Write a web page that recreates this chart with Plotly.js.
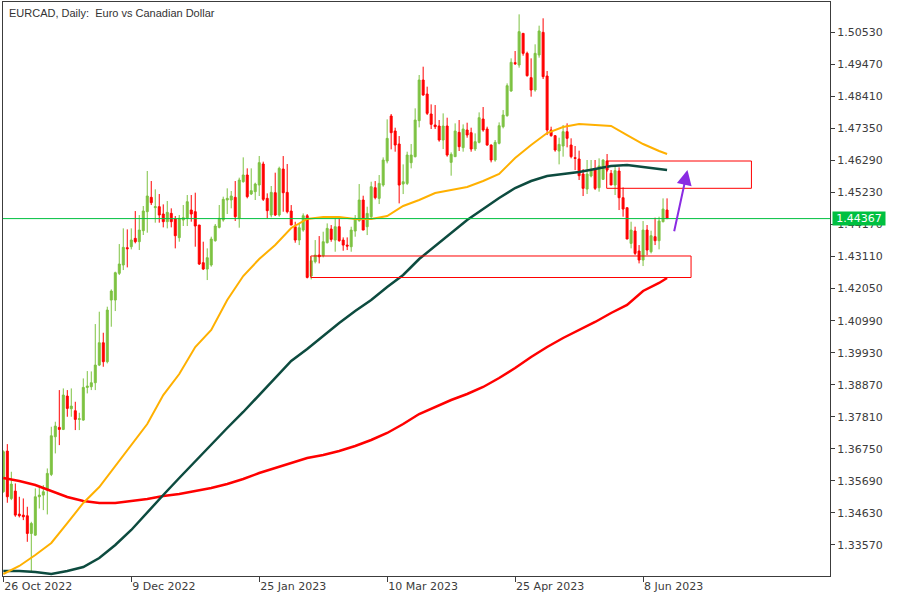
<!DOCTYPE html>
<html>
<head>
<meta charset="utf-8">
<script src="https://cdn.plot.ly/plotly-3.0.1.min.js"></script>
<style>html,body{margin:0;padding:0;background:#fff;}#chart{width:900px;height:600px;}</style>
</head>
<body>
<div id="chart"></div>
<script>
// Daily candles, 26 Oct 2022 .. 16 Jun 2023 (bar index 0..166)
const openP = [1.35333,1.36676,1.35109,1.35352,1.34591,1.34558,1.34536,1.33951,1.33896,1.35165,
1.35220,1.35385,1.35904,1.37150,1.37459,1.37393,1.38496,1.38077,1.38010,1.37724,
1.37702,1.38782,1.38804,1.38937,1.39521,1.40260,1.39632,1.41672,1.41672,1.42555,
1.42831,1.43404,1.43437,1.43713,1.43603,1.43967,1.44596,1.45070,1.44728,1.44761,
1.44518,1.44265,1.44540,1.44353,1.43735,1.44320,1.44375,1.44651,1.44596,1.44154,
1.42908,1.42698,1.42831,1.43636,1.44077,1.44320,1.44982,1.44982,1.45070,1.44375,
1.45588,1.45809,1.45180,1.45257,1.45478,1.46173,1.45037,1.44485,1.45224,1.44485,
1.46006,1.45234,1.44616,1.44098,1.43657,1.43988,1.44462,1.42466,1.42940,1.43161,
1.43139,1.43569,1.44021,1.43657,1.44098,1.43657,1.43491,1.43436,1.43955,1.44297,
1.44981,1.44098,1.44429,1.45389,1.45036,1.45477,1.46271,1.47760,1.47264,1.46834,
1.45510,1.45532,1.46216,1.46415,1.47606,1.48951,1.48488,1.47826,1.47462,1.47429,
1.46966,1.47429,1.46227,1.46415,1.47220,1.46712,1.47297,1.47209,1.46668,1.46889,
1.47661,1.47330,1.46800,1.46304,1.46856,1.47407,1.47771,1.48587,1.49525,1.49448,
1.50495,1.49834,1.49029,1.48620,1.49779,1.50529,1.49084,1.47297,1.47110,1.46602,
1.46768,1.47242,1.46801,1.46382,1.46338,1.45841,1.45345,1.45775,1.45974,1.45389,
1.45665,1.46272,1.45864,1.45478,1.45941,1.45058,1.44727,1.43547,1.43955,1.43294,
1.42996,1.43988,1.43271,1.43768,1.43635,1.44264,1.44650];
const highP = [1.36700,1.36907,1.35992,1.35606,1.35165,1.35109,1.34834,1.34337,1.35441,1.35496,
1.35551,1.36102,1.37481,1.37647,1.38694,1.38749,1.38694,1.38749,1.38308,1.37944,
1.39080,1.39323,1.39312,1.40878,1.41286,1.40591,1.41452,1.42025,1.42610,1.43525,
1.44044,1.44011,1.44044,1.44617,1.44485,1.44783,1.45941,1.45610,1.45335,1.45180,
1.44838,1.44949,1.44706,1.44452,1.44485,1.44816,1.45147,1.45147,1.45224,1.44154,
1.43603,1.43382,1.43768,1.44188,1.44816,1.45092,1.45368,1.45279,1.45610,1.45721,
1.46393,1.46029,1.46029,1.45555,1.46438,1.46250,1.45202,1.45445,1.45886,1.46085,
1.46436,1.46172,1.44815,1.44263,1.44208,1.44539,1.44517,1.43105,1.43657,1.43789,
1.43933,1.44208,1.44153,1.44374,1.44374,1.43745,1.43745,1.44098,1.44484,1.45510,
1.45124,1.44760,1.45587,1.45609,1.45808,1.46392,1.47650,1.47826,1.47374,1.47098,
1.46161,1.46580,1.46834,1.48014,1.49117,1.49392,1.48731,1.48146,1.48124,1.47628,
1.47848,1.47705,1.46558,1.47517,1.47628,1.47484,1.47539,1.47374,1.47187,1.47881,
1.48058,1.47407,1.46822,1.46966,1.47550,1.47958,1.48841,1.49668,1.49911,1.51124,
1.50495,1.49889,1.49668,1.50132,1.50749,1.50992,1.49249,1.47407,1.47131,1.47043,
1.47463,1.47518,1.47022,1.46768,1.46614,1.46007,1.46305,1.46305,1.46305,1.46360,
1.46327,1.46503,1.45974,1.46084,1.46062,1.45400,1.44727,1.44264,1.44099,1.43492,
1.44286,1.44154,1.43967,1.44397,1.44430,1.45036,1.45036];
const lowP = [1.35300,1.34966,1.35054,1.34503,1.34481,1.34393,1.33675,1.32676,1.33874,1.34778,
1.34723,1.34580,1.35849,1.36599,1.36874,1.37371,1.37812,1.37812,1.37371,1.37371,
1.37680,1.38584,1.38694,1.38694,1.39488,1.39466,1.39577,1.40790,1.41308,1.42500,
1.42665,1.42753,1.43349,1.43548,1.43327,1.43824,1.43901,1.44816,1.44232,1.44232,
1.44077,1.44044,1.44077,1.43382,1.43603,1.44121,1.44121,1.44265,1.43437,1.42831,
1.42665,1.42334,1.42776,1.43603,1.44044,1.44265,1.44518,1.44706,1.44287,1.44066,
1.45555,1.45037,1.45147,1.44982,1.45114,1.44949,1.44375,1.44408,1.44452,1.44430,
1.44594,1.44539,1.44153,1.43569,1.43491,1.43933,1.42388,1.42355,1.42885,1.42885,
1.43084,1.43547,1.43602,1.43271,1.43602,1.43304,1.43326,1.43271,1.43767,1.44264,
1.43988,1.43822,1.44374,1.45003,1.44848,1.45422,1.46194,1.46657,1.46580,1.44870,
1.45179,1.45477,1.46029,1.46392,1.47385,1.48433,1.47793,1.47330,1.47330,1.46911,
1.46668,1.46415,1.45786,1.46415,1.46602,1.46580,1.47043,1.46580,1.46602,1.46856,
1.47242,1.46778,1.46227,1.46249,1.46822,1.47352,1.47738,1.48565,1.49448,1.49359,
1.49756,1.49062,1.48400,1.48565,1.49690,1.48984,1.47131,1.47076,1.46580,1.46161,
1.46415,1.46724,1.46360,1.45974,1.45643,1.45113,1.45180,1.45731,1.45312,1.45257,
1.45643,1.45919,1.45478,1.45147,1.44650,1.44430,1.43690,1.43382,1.43161,1.42885,
1.42797,1.43161,1.43216,1.43492,1.43349,1.44242,1.44367];
const closeP = [1.36656,1.35165,1.35584,1.34558,1.34536,1.34503,1.33951,1.34282,1.35165,1.35220,
1.35330,1.35937,1.37183,1.37503,1.37393,1.38529,1.38088,1.38165,1.37724,1.37746,
1.38782,1.38826,1.38937,1.39521,1.40260,1.39632,1.41341,1.41970,1.42577,1.42864,
1.43415,1.43371,1.43658,1.43603,1.43989,1.44618,1.45114,1.44893,1.44761,1.44485,
1.44265,1.44574,1.44265,1.43801,1.44375,1.44397,1.44926,1.44518,1.44121,1.42864,
1.42698,1.43073,1.43691,1.44121,1.44375,1.45004,1.45037,1.45114,1.44430,1.45643,
1.45809,1.45092,1.45291,1.45511,1.46217,1.45004,1.44629,1.45235,1.44485,1.46029,
1.45223,1.44594,1.44153,1.43657,1.44065,1.44462,1.42421,1.42973,1.43161,1.43105,
1.43602,1.44043,1.43679,1.44098,1.43635,1.43491,1.43458,1.43988,1.44374,1.44981,
1.43988,1.44539,1.45422,1.45058,1.45532,1.46304,1.47021,1.47209,1.46801,1.45477,
1.45587,1.46470,1.46470,1.47628,1.48951,1.48455,1.47848,1.47484,1.47407,1.46966,
1.47429,1.46470,1.46492,1.47264,1.46745,1.47330,1.47131,1.46668,1.46911,1.47705,
1.47297,1.46800,1.46304,1.46889,1.47440,1.47793,1.48764,1.49536,1.49492,1.50551,
1.49834,1.49095,1.48620,1.49834,1.50573,1.49062,1.47297,1.47110,1.46635,1.46822,
1.47242,1.47022,1.46415,1.46360,1.45786,1.45367,1.45841,1.45974,1.45367,1.46106,
1.46305,1.45974,1.45478,1.45952,1.45058,1.44683,1.43690,1.43988,1.43216,1.42996,
1.43988,1.43327,1.43801,1.43635,1.44286,1.44683,1.44367];

// Moving averages, read at every 4th bar (last point at bar 166)
const maIdx = [0,4,8,12,16,20,24,28,32,36,40,44,48,52,56,60,64,68,72,76,80,84,88,92,96,100,104,108,112,116,120,124,128,132,136,140,144,148,152,156,160,164,166];
const maFast = [1.32610,1.32875,1.33239,1.33636,1.34297,1.34959,1.35488,1.36183,1.36877,1.37572,1.38531,1.39226,1.40119,1.40682,1.41674,1.42468,1.43030,1.43493,1.44056,1.44354,1.44420,1.44420,1.44354,1.44354,1.44453,1.44784,1.44982,1.45214,1.45313,1.45412,1.45611,1.45843,1.46371,1.46801,1.47198,1.47397,1.47496,1.47463,1.47430,1.47132,1.46834,1.46603,1.46504];
const maMid = [1.32709,1.32709,1.32676,1.32610,1.32709,1.32842,1.33140,1.33569,1.34066,1.34661,1.35223,1.35786,1.36348,1.36910,1.37440,1.37969,1.38531,1.39094,1.39656,1.40053,1.40483,1.40913,1.41310,1.41674,1.42104,1.42501,1.43030,1.43460,1.43890,1.44320,1.44684,1.45048,1.45379,1.45611,1.45776,1.45842,1.45908,1.46008,1.46107,1.46140,1.46074,1.46008,1.45974];
const maSlow = [1.35786,1.35687,1.35554,1.35356,1.35157,1.35025,1.34959,1.34959,1.35025,1.35091,1.35190,1.35256,1.35356,1.35455,1.35587,1.35753,1.35951,1.36117,1.36282,1.36447,1.36547,1.36679,1.36845,1.37043,1.37275,1.37572,1.37903,1.38135,1.38366,1.38565,1.38796,1.39094,1.39425,1.39789,1.40119,1.40417,1.40682,1.40947,1.41244,1.41509,1.41972,1.42237,1.42402];

const xTickIdx = [0,32,64,96,128,160];
const xTickText = ['26 Oct 2022','9 Dec 2022','25 Jan 2023','10 Mar 2023','25 Apr 2023','8 Jun 2023'];
const yTicks = [1.33570,1.34630,1.35690,1.36750,1.37810,1.38870,1.39930,1.40990,1.42050,1.43110,1.44170,1.45230,1.46290,1.47350,1.48410,1.49470,1.50530];
const lastPrice = 1.44367;

// zones (bar index / price)
const zoneUpper = {i0:150.9, i1:187.1, top:1.46272, bottom:1.45369};
const zoneLower = {i0:76.9, i1:172.0, top:1.43130, bottom:1.42418};
const arrowFrom = {i:167.7, p:1.43900};
const arrowTo = {i:171.1, p:1.45974};

const barIdx = openP.map((_, i) => i);
const axisCol = '#3c3c3c';
const tickFont = {family:'DejaVu Sans', size:11, color:axisCol};

const traces = [
  {type:'candlestick', x:barIdx, open:openP, high:highP, low:lowP, close:closeP,
   increasing:{line:{color:'#7DC242', width:1}, fillcolor:'#7DC242'},
   decreasing:{line:{color:'#FF0000', width:1}, fillcolor:'#FF0000'},
   whiskerwidth:0, hoverinfo:'skip'},
  {type:'scatter', mode:'lines', x:maIdx, y:maSlow, line:{color:'#FF0000', width:2.5}, hoverinfo:'skip'},
  {type:'scatter', mode:'lines', x:maIdx, y:maMid, line:{color:'#0D4B3F', width:2.5}, hoverinfo:'skip'},
  {type:'scatter', mode:'lines', x:maIdx, y:maFast, line:{color:'#FFB000', width:2}, hoverinfo:'skip'}
];

const layout = {
  width:900, height:600,
  margin:{l:3, r:70, t:2, b:24},
  paper_bgcolor:'#ffffff', plot_bgcolor:'#ffffff',
  showlegend:false,
  boxgap:0.3, boxgroupgap:0.3,
  xaxis:{type:'linear', range:[-0.08, 206.75], showgrid:false, zeroline:false,
    showline:true, mirror:true, linecolor:axisCol, linewidth:1,
    ticks:'outside', ticklen:5, tickcolor:axisCol,
    tickvals:xTickIdx, ticktext:xTickText, ticklabelposition:'outside right',
    tickfont:tickFont, rangeslider:{visible:false}, fixedrange:true},
  yaxis:{side:'right', range:[1.32544, 1.51532], showgrid:false, zeroline:false,
    showline:true, mirror:true, linecolor:axisCol, linewidth:1,
    ticks:'outside', ticklen:4, tickcolor:axisCol,
    tickvals:yTicks, tickformat:'.5f', tickfont:tickFont, fixedrange:true},
  shapes:[
    {type:'line', xref:'paper', yref:'y', x0:0, x1:1, y0:lastPrice, y1:lastPrice, line:{color:'#00C040', width:1}},
    {type:'rect', xref:'x', yref:'y', x0:zoneUpper.i0, x1:zoneUpper.i1, y0:zoneUpper.bottom, y1:zoneUpper.top, line:{color:'#FF0000', width:1}, fillcolor:'rgba(0,0,0,0)'},
    {type:'rect', xref:'x', yref:'y', x0:zoneLower.i0, x1:zoneLower.i1, y0:zoneLower.bottom, y1:zoneLower.top, line:{color:'#FF0000', width:1}, fillcolor:'rgba(0,0,0,0)'}
  ],
  annotations:[
    {xref:'paper', yref:'paper', x:0, y:1, xanchor:'left', yanchor:'top', xshift:4, yshift:-3,
     text:'EURCAD, Daily:  Euro vs Canadian Dollar', showarrow:false,
     font:{family:'Liberation Sans', size:11, color:'#333333'}},
    {xref:'paper', yref:'y', x:1, y:lastPrice, xanchor:'left', yanchor:'middle', xshift:2,
     text:lastPrice.toFixed(5), showarrow:false, bgcolor:'#00C040', width:52, height:13, borderpad:0,
     font:{family:'DejaVu Sans', size:11, color:'#ffffff'}},
    {xref:'x', yref:'y', x:arrowTo.i, y:arrowTo.p, axref:'x', ayref:'y', ax:arrowFrom.i, ay:arrowFrom.p,
     showarrow:true, arrowhead:2, arrowsize:1.5, arrowwidth:2, arrowcolor:'#8A2BE2', text:''}
  ]
};

Plotly.newPlot('chart', traces, layout, {displayModeBar:false, staticPlot:true});
</script>
</body>
</html>
